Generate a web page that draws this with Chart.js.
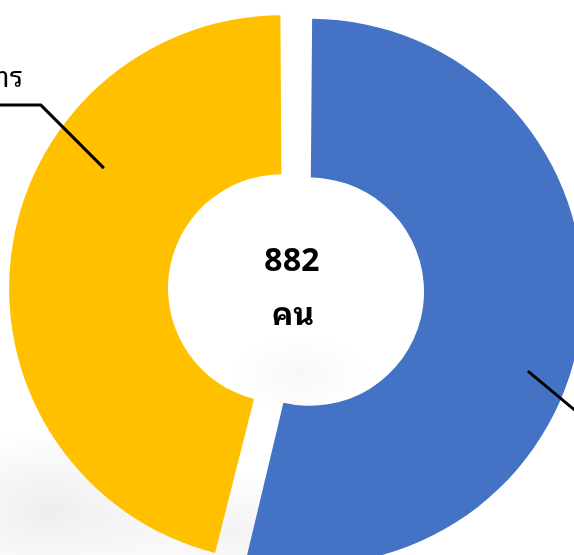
<!DOCTYPE html>
<html>
<head>
<meta charset="utf-8">
<script src="https://cdn.jsdelivr.net/npm/chart.js@4.4.0/dist/chart.umd.min.js"></script>
<style>
  html, body { margin: 0; padding: 0; width: 574px; height: 555px; overflow: hidden; }
  body {
    background:
      radial-gradient(ellipse 130px 80px at 50px 510px, rgba(205,205,205,0.35), rgba(255,255,255,0)),
      radial-gradient(ellipse 150px 60px at 230px 530px, rgba(215,215,215,0.3), rgba(255,255,255,0)),
      radial-gradient(ellipse 70px 40px at 300px 375px, rgba(225,225,225,0.25), rgba(255,255,255,0)),
      #ffffff;
  }
  #wrap { position: absolute; left: -4px; top: -10px; width: 600px; height: 600px; }
</style>
</head>
<body>
<div id="wrap"><canvas id="myChart"></canvas></div>
<script>
// ข้อมูลของแผนภูมิ
const labels = ['พนักงาน', 'ข้าราชการ'];
const values = [475, 407];
const colors = ['#4472C4', '#FFC000'];
const centerLines = ['882', 'คน'];

const thaiFont = '"Noto Sans Thai Looped", "Noto Sans Thai", "Noto Sans", sans-serif';
const sliceOffset = 56; // ระยะแยกชิ้น (Chart.js เลื่อนชิ้นไป offset/4)

// แยกชิ้นออกจากกันโดยไม่ให้รัศมีขยาย
const explodePlugin = {
    id: 'explode',
    afterDatasetUpdate(chart) {
        chart.getDatasetMeta(0).data.forEach(arc => {
            const fix = 1 - Math.sin(Math.min(Math.PI, arc.circumference));
            const grow = sliceOffset / 4 * fix;
            arc.outerRadius -= grow;
            arc.innerRadius -= grow;
        });
    }
};

// วาดเส้นโยงป้ายและข้อความตรงกลาง
const leaderPlugin = {
    id: 'leaders',
    afterDraw(chart) {
        const ctx = chart.ctx;
        const arcs = chart.getDatasetMeta(0).data;
        // มุม (จากด้านบน ตามเข็ม) และระยะจากศูนย์กลางของจุดเริ่มเส้น
        const leaders = [
            { angle: 110, r: 232, elbow: [60, 50], end: 200, align: 'left' },
            { angle: 304, r: 215, elbow: [-63, -63], end: -200, align: 'right' }
        ];
        ctx.save();
        arcs.forEach((arc, i) => {
            const half = (arc.startAngle + arc.endAngle) / 2;
            const cx = arc.x + Math.cos(half) * sliceOffset / 4;
            const cy = arc.y + Math.sin(half) * sliceOffset / 4;
            const L = leaders[i];
            const a = L.angle * Math.PI / 180;
            const sx = cx + Math.sin(a) * L.r;
            const sy = cy - Math.cos(a) * L.r;
            const ex = sx + L.elbow[0];
            const ey = sy + L.elbow[1];
            ctx.strokeStyle = '#000';
            ctx.lineWidth = 3;
            ctx.beginPath();
            ctx.moveTo(sx, sy);
            ctx.lineTo(ex, ey);
            ctx.lineTo(ex + L.end, ey);
            ctx.stroke();
            ctx.fillStyle = '#000';
            ctx.font = '28px ' + thaiFont;
            ctx.textAlign = L.align;
            ctx.textBaseline = 'alphabetic';
            ctx.fillText(labels[i], L.align === 'right' ? ex - 18 : ex + 18, ey - 18);
        });
        // ข้อความตรงกลาง
        const c = arcs[0];
        ctx.fillStyle = '#000';
        ctx.textAlign = 'center';
        ctx.textBaseline = 'middle';
        ctx.font = 'bold 32px ' + thaiFont;
        ctx.fillText(centerLines[0], c.x - 4, c.y - 28);
        ctx.fillText(centerLines[1], c.x - 3, c.y + 26);
        ctx.restore();
    }
};

const ctx = document.getElementById('myChart').getContext('2d');
const myChart = new Chart(ctx, {
    type: 'doughnut',
    data: {
        labels: labels,
        datasets: [{
            data: values,
            backgroundColor: colors,
            borderWidth: 0,
            offset: sliceOffset,
            radius: 273,
            cutout: '41.8%'
        }]
    },
    options: {
        responsive: true,
        maintainAspectRatio: false,
        animation: false,
        layout: { padding: 0 },
        plugins: {
            legend: { display: false },
            tooltip: { enabled: false }
        }
    },
    plugins: [explodePlugin, leaderPlugin]
});
</script>
</body>
</html>
